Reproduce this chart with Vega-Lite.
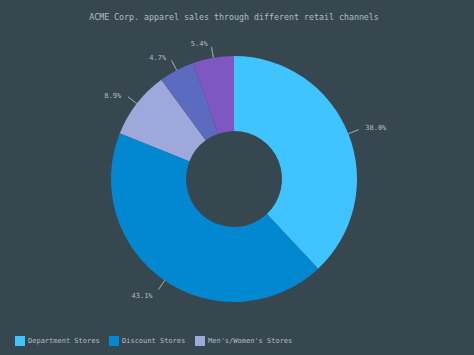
{
  "$schema": "https://vega.github.io/schema/vega-lite/v6.json",
  "width": 468,
  "height": 300,
  "autosize": {"type": "none"},
  "padding": {"left": 0, "top": 29, "right": 6, "bottom": 26},
  "background": "#37474f",
  "title": {
    "text": "ACME Corp. apparel sales through different retail channels",
    "font": "DejaVu Sans Mono",
    "fontSize": 8.3,
    "fontWeight": "normal",
    "color": "#b0bec5",
    "offset": 8,
    "anchor": "middle"
  },
  "config": {
    "view": {"stroke": null},
    "text": {"font": "DejaVu Sans Mono"}
  },
  "data": {
    "values": [
      {"rank": 1, "name": "Department Stores", "sales": 6371664, "label": "38.0%"},
      {"rank": 2, "name": "Discount Stores", "sales": 7216301, "label": "43.1%"},
      {"rank": 3, "name": "Men's/Women's Stores", "sales": 1486621, "label": "8.9%"},
      {"rank": 4, "name": "Juvenile Specialty Stores", "sales": 786622, "label": "4.7%"},
      {"rank": 5, "name": "All other outlets", "sales": 900000, "label": "5.4%"}
    ]
  },
  "encoding": {
    "theta": {"field": "sales", "type": "quantitative", "stack": true},
    "order": {"field": "rank", "type": "quantitative"}
  },
  "layer": [
    {
      "mark": {"type": "arc", "radius": 123, "innerRadius": 48},
      "encoding": {
        "color": {
          "field": "name",
          "type": "nominal",
          "scale": {
            "domain": ["Department Stores", "Discount Stores", "Men's/Women's Stores", "Juvenile Specialty Stores", "All other outlets"],
            "range": ["#40c4ff", "#0288d1", "#9fa8da", "#5c6bc0", "#7e57c2"]
          },
          "legend": {
            "values": ["Department Stores", "Discount Stores", "Men's/Women's Stores"],
            "orient": "none",
            "legendX": 15,
            "legendY": 307,
            "direction": "horizontal",
            "title": null,
            "symbolType": "square",
            "symbolSize": 100,
            "symbolStrokeWidth": 0,
            "symbolOpacity": 1,
            "labelFont": "DejaVu Sans Mono",
            "labelFontSize": 7,
            "labelColor": "#b0bec5",
            "labelOffset": 3,
            "columnPadding": 9,
            "padding": 0
          }
        }
      }
    },
    {
      "mark": {"type": "arc", "radius": 134, "radius2": 123, "padAngle": 3, "fill": null, "stroke": "#90a4ae", "strokeWidth": 0.8}
    },
    {
      "mark": {"type": "text", "radius": 139, "align": "left", "baseline": "middle", "dx": 2, "fontSize": 7, "color": "#b0bec5"},
      "encoding": {
        "text": {"condition": {"test": "datum.rank == 1", "field": "label"}, "value": ""}
      }
    },
    {
      "mark": {"type": "text", "radius": 139, "align": "right", "baseline": "middle", "dx": -3, "dy": 2, "fontSize": 7, "color": "#b0bec5"},
      "encoding": {
        "text": {"condition": {"test": "datum.rank != 1", "field": "label"}, "value": ""}
      }
    }
  ]
}
